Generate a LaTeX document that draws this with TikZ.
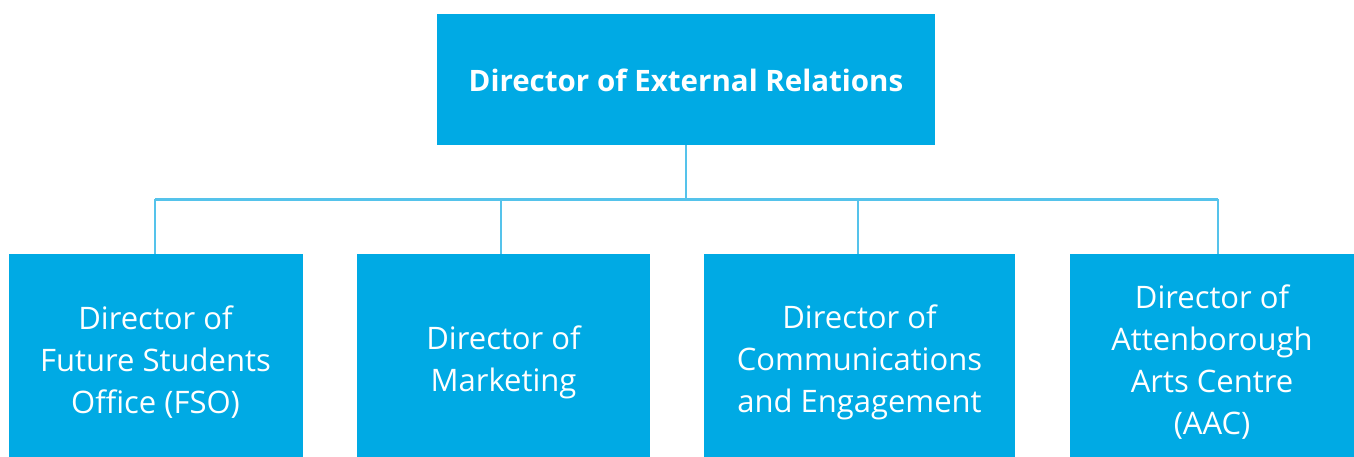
\documentclass[tikz,border=0pt]{standalone}
\usepackage{fontspec}
\setmainfont{Open Sans}
\definecolor{boxblue}{RGB}{0,170,228}
\definecolor{lineblue}{RGB}{85,195,235}
\begin{document}
\begin{tikzpicture}[x=1pt,y=-1pt,
  box/.style={fill=boxblue,inner sep=0pt},
  lbl/.style={text=white,inner sep=0pt,align=center,font=\fontsize{31}{42}\selectfont},
  conn/.style={draw=lineblue,line width=2.5pt}]
\useasboundingbox (0,0) rectangle (1354,457);
\node[box,minimum width=498pt,minimum height=131pt] (top) at (686,79.5) {};
\node[lbl,font=\bfseries\fontsize{29.5}{40}\selectfont] (ttop) at ([yshift=-1pt]top.center) {Director of External Relations};
\node[box,minimum width=294pt,minimum height=203pt] (b1) at (155.5,355.5) {};
\node[box,minimum width=293pt,minimum height=203pt] (b2) at (503.5,355.5) {};
\node[box,minimum width=311pt,minimum height=203pt] (b3) at (859.5,355.5) {};
\node[box,minimum width=284pt,minimum height=203pt] (b4) at (1212,355.5) {};
\node[lbl] (t1) at ([yshift=-6.5pt]b1.center) {Director of\\Future Students\\Office (FSO)};
\node[lbl] (t2) at ([yshift=-6.5pt]b2.center) {Director of\\Marketing};
\node[lbl] (t3) at ([yshift=-6.5pt]b3.center) {Director of\\Communications\\and Engagement};
\node[lbl] (t4) at ([yshift=-6.5pt]b4.center) {Director of\\Attenborough\\Arts Centre\\(AAC)};
\coordinate (h) at (686,199.5);
\coordinate (hl) at (155,199.5);
\coordinate (hr) at (1218,199.5);
\draw[conn] (top.south) -- (h);
\draw[conn] (hl) -- (hr);
\draw[conn] (hl) -- (hl |- b1.north);
\draw[conn] (501,199.5) -- (501,254);
\draw[conn] (858,199.5) -- (858,254);
\draw[conn] (hr) -- (hr |- b4.north);
\end{tikzpicture}
\end{document}
